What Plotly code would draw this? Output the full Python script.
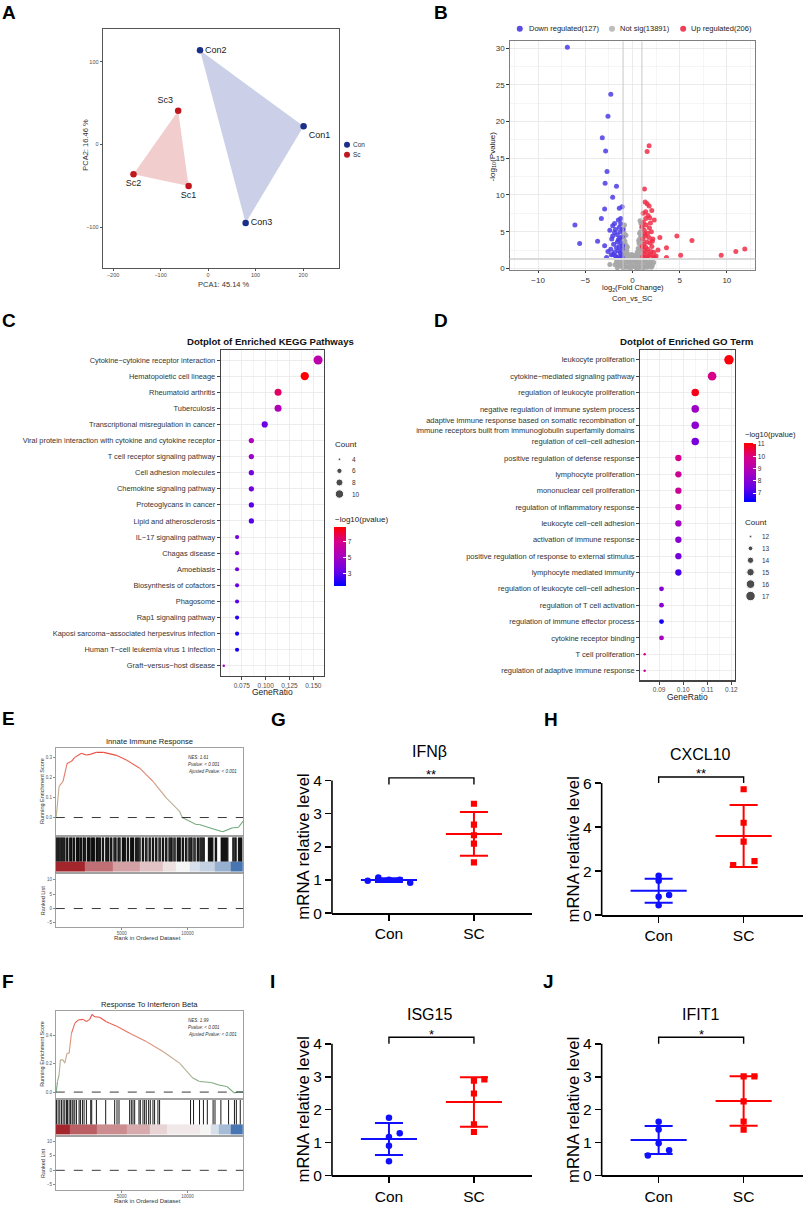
import numpy as np
import plotly.graph_objects as go

W, H = 809, 1213
FONT = "Liberation Sans, Arial, sans-serif"

# ---------------------------------------------------------------------------
# Data
# ---------------------------------------------------------------------------

# A - PCA
CON_SAMPLES = ["Con1", "Con2", "Con3"]
CON_PC1 = [201, -17, 79]
CON_PC2 = [22, 114, -95]
SC_SAMPLES = ["Sc1", "Sc2", "Sc3"]
SC_PC1 = [-41, -157, -63]
SC_PC2 = [-50, -36, 41]

# B - volcano (log2FC, -log10 p)
DOWN_X = [-6.9, -2.3, -2.6, -3.2, -2.85, -2.7, -2.9, -1.7, -2.1, -2.95, -1.4, -1.1,
          -3.3, -1.5, -1.25, -6.1, -1.9, -3.7, -5.6, -2.95, -2.75, -2.25, -2.1,
          -1.2, -1.3, -1.1, -1.4, -1.2, -1.5, -1.1, -1.6, -1.3, -1.8, -1.4, -1.9,
          -1.7, -2.0, -1.6, -2.2, -1.9, -2.4, -1.15, -1.5, -1.8, -2.3, -1.05, -1.35,
          -1.65, -2.1, -1.05, -1.25, -2.6, -2.05, -1.45, -1.1]
DOWN_Y = [30.1, 23.7, 20.7, 17.8, 16.0, 13.2, 11.6, 11.2, 9.7, 8.1, 8.2, 8.4,
          6.8, 6.6, 6.8, 5.9, 6.1, 3.7, 3.4, 3.1, 1.5, 1.85, 4.4,
          1.6, 2.1, 2.6, 3.0, 3.5, 3.9, 4.3, 4.6, 5.0, 5.3, 5.6, 2.2,
          2.8, 3.3, 3.6, 4.0, 4.9, 5.2, 1.95, 2.4, 1.7, 2.6, 3.1, 4.1,
          1.5, 5.8, 5.3, 6.1, 2.3, 1.9, 1.5, 1.5]
UP_X = [1.76, 1.55, 1.27, 1.34, 1.55, 1.76, 2.04, 1.13, 1.4, 1.83, 2.3, 2.9, 4.7,
        6.3, 3.6, 2.7, 2.5, 2.3, 3.6, 5.1, 9.4, 10.95, 11.9,
        1.1, 1.25, 1.15, 1.4, 1.2, 1.5, 1.1, 1.35, 1.6, 1.25, 1.8, 1.45, 1.15,
        1.7, 1.95, 1.6, 2.05, 1.85, 2.15, 1.75, 2.0, 1.55, 2.2, 1.3, 1.9, 1.05,
        1.65, 2.25, 1.4, 1.3, 2.1, 1.05, 1.9, 1.5]
UP_Y = [16.7, 15.9, 10.8, 9.05, 8.8, 8.5, 7.9, 7.5, 7.7, 6.9, 6.6, 4.2, 4.4,
        3.8, 2.8, 2.5, 1.7, 1.5, 1.5, 1.8, 1.8, 2.3, 2.65,
        1.6, 2.0, 2.5, 2.9, 3.3, 3.6, 4.0, 4.4, 4.8, 5.2, 5.5, 5.9, 6.3,
        1.7, 2.3, 2.6, 3.0, 3.5, 4.0, 4.2, 5.0, 1.5, 1.6, 1.5, 6.2, 5.7,
        7.2, 2.2, 6.8, 4.7, 3.7, 3.0, 1.9, 2.2]
NS_X = [-0.95, -0.9, -0.85, -0.95, -0.8, -0.9, -0.7, -0.95, -0.75, -0.6, -0.9, -0.65,
        -0.45, -0.8, -0.5, -0.3, -0.85, -0.7, -0.6, -0.55,
        0.95, 0.85, 0.9, 0.8, 0.95, 0.7, 0.9, 0.6, 0.8, 0.5, 0.95, 0.7, 0.4, 0.85,
        0.55, 0.3, 0.75, 0.65, 0.9, 0.8,
        -1.7, -1.5, -1.35, -1.2, -1.05, -0.9, -0.8, -0.6, -0.45, -0.3, -0.15, 0.0,
        0.1, 0.25, 0.35, 0.5, 0.6, 0.75, 0.9, 1.05, 1.2, 1.35, 1.5, 1.65, 1.8,
        1.95, 2.1, 2.25, -1.6, -1.0, -0.2, 0.45, 1.1, 1.7, -2.4, 0.0, -0.1, 0.12,
        -0.35, 0.3, -1.85, 2.0, -1.3, 1.45, -0.65, 0.65, 1.25, -1.6]
NS_Y = [5.4, 4.9, 4.4, 4.0, 3.7, 3.3, 3.2, 2.8, 2.6, 2.4, 2.1, 1.9,
        1.9, 1.6, 1.5, 1.4, 5.9, 4.5, 3.0, 2.9,
        5.6, 5.0, 4.5, 4.1, 3.7, 3.4, 3.0, 2.7, 2.5, 2.2, 2.1, 1.9, 1.7, 1.5,
        1.4, 1.3, 4.8, 3.8, 6.1, 6.5,
        0.9, 0.5, 1.1, 0.3, 0.8, 1.2, 0.4, 0.9, 0.2, 0.7, 1.2, 0.4,
        1.0, 0.2, 0.8, 1.1, 0.4, 0.9, 0.2, 0.7, 1.1, 0.4, 0.9, 0.2, 0.7,
        1.1, 0.4, 0.8, 0.1, 0.1, 0.05, 0.05, 0.05, 0.5, 0.55, 1.6, 1.9, 1.8,
        1.15, 1.5, 0.5, 0.15, 0.55, 0.15, 0.15, 0.1, 1.25, 1.25]
P_CUT = 1.3
FC_CUT = 1.0

# C - KEGG dotplot
KEGG_TERMS = [
    "Cytokine−cytokine receptor interaction",
    "Hematopoietic cell lineage",
    "Rheumatoid arthritis",
    "Tuberculosis",
    "Transcriptional misregulation in cancer",
    "Viral protein interaction with cytokine and cytokine receptor",
    "T cell receptor signaling pathway",
    "Cell adhesion molecules",
    "Chemokine signaling pathway",
    "Proteoglycans in cancer",
    "Lipid and atherosclerosis",
    "IL−17 signaling pathway",
    "Chagas disease",
    "Amoebiasis",
    "Biosynthesis of cofactors",
    "Phagosome",
    "Rap1 signaling pathway",
    "Kaposi sarcoma−associated herpesvirus infection",
    "Human T−cell leukemia virus 1 infection",
    "Graft−versus−host disease",
]
KEGG_COUNT = [11, 10, 8, 8, 7, 6, 6, 6, 6, 6, 6, 5, 5, 5, 5, 5, 5, 5, 5, 4]
KEGG_RATIO = [0.155, 0.141, 0.113, 0.113, 0.099, 0.085, 0.085, 0.085, 0.085, 0.085,
              0.085, 0.070, 0.070, 0.070, 0.070, 0.070, 0.070, 0.070, 0.070, 0.056]
KEGG_LOGP = [5.8, 8.7, 7.4, 5.4, 3.3, 5.2, 4.7, 3.6, 3.5, 3.0, 2.9, 3.7, 3.7, 3.6,
             3.3, 3.0, 2.2, 1.8, 1.8, 5.0]
KEGG_COUNT_BREAKS = [4, 6, 8, 10]

# D - GO dotplot
GO_TERMS = [
    "leukocyte proliferation",
    "cytokine−mediated signaling pathway",
    "regulation of leukocyte proliferation",
    "negative regulation of immune system process",
    "adaptive immune response based on somatic recombination of<br>"
    "immune receptors built from immunoglobulin superfamily domains",
    "regulation of cell−cell adhesion",
    "positive regulation of defense response",
    "lymphocyte proliferation",
    "mononuclear cell proliferation",
    "regulation of inflammatory response",
    "leukocyte cell−cell adhesion",
    "activation of immune response",
    "positive regulation of response to external stimulus",
    "lymphocyte mediated immunity",
    "regulation of leukocyte cell−cell adhesion",
    "regulation of T cell activation",
    "regulation of immune effector process",
    "cytokine receptor binding",
    "T cell proliferation",
    "regulation of adaptive immune response",
]
GO_COUNT = [17, 16, 15, 15, 15, 15, 14, 14, 14, 14, 14, 14, 14, 14, 13, 13, 13, 13, 12, 12]
GO_RATIO = [0.119, 0.112, 0.105, 0.105, 0.105, 0.105, 0.098, 0.098, 0.098, 0.098,
            0.098, 0.098, 0.098, 0.098, 0.091, 0.091, 0.091, 0.091, 0.084, 0.084]
GO_LOGP = [11.0, 9.9, 10.9, 8.5, 8.2, 7.8, 9.9, 9.7, 9.6, 9.2, 8.6, 8.1, 7.7, 7.1,
           8.0, 8.1, 6.5, 8.7, 9.8, 9.5]
GO_COUNT_BREAKS = [12, 13, 14, 15, 16, 17]

# E - GSEA Innate Immune Response
E_RANK = [0, 50, 250, 550, 860, 1190, 1440, 1950, 2300, 2630, 3080, 3640, 4600, 5360,
          6370, 7380, 8390, 9400, 9600, 10660, 10900, 12090, 12680, 13420, 13860, 14224]
E_ES = [0.0, 0.015, 0.155, 0.18, 0.27, 0.28, 0.30, 0.32, 0.312, 0.315, 0.325, 0.325,
        0.31, 0.287, 0.246, 0.18, 0.098, 0.031, 0.0, -0.035, -0.035, -0.06, -0.071,
        -0.051, -0.05, -0.018]
E_HITS = [20, 95, 170, 240, 320, 400, 470, 545, 620, 690, 830, 905, 1060, 1135, 1205,
          1330, 1410, 1570, 1640, 1710, 1770, 1880, 1950, 2090, 2160, 2240, 2400, 2470,
          2540, 2600, 2720, 2790, 2860, 2930, 3080, 3150, 3220, 3300, 3380, 3540, 3620,
          3800, 3870, 3950, 4020, 4170, 4250, 4420, 4500, 4570, 4730, 4800, 4880, 5060,
          5130, 5200, 5280, 5440, 5520, 5690, 5760, 5840, 5910, 6070, 6150, 6230, 6310,
          6400, 6580, 6660, 6830, 6920, 7090, 7170, 7340, 7420, 7590, 7670, 7840, 7930,
          8100, 8180, 8350, 8430, 8600, 8680, 8760, 8830, 8970, 9060, 9230, 9300, 9380,
          9450, 9610, 9690, 9860, 9950, 10110, 10190, 10270, 10340, 10490, 10580, 10750,
          10830, 10950, 11030, 11110, 11190, 11270, 11600, 11680, 11760, 11840, 11920,
          12120, 12200, 12570, 12650, 12730, 12810, 12890, 12970, 13060, 13450, 13530,
          13620, 13690, 13880, 13960, 14040, 14120]
E_RAMP_EDGES = [0, 2200, 4350, 6370, 8140, 9150, 10160, 10910, 12090, 13270, 14224]
E_RAMP_METRIC = [5.0, 3.2, 2.0, 1.2, 0.5, 0.0, -0.6, -1.0, -1.9, -3.5]
E_STATS = ["NES: 1.61", "Pvalue: < 0.001", "Ajusted Pvalue: < 0.001"]

# F - GSEA Response To Interferon Beta
F_RANK = [0, 50, 130, 250, 350, 556, 682, 860, 1011, 1190, 1440, 1690, 2075, 2325, 2580,
          2750, 2955, 3330, 3840, 4090, 4600, 5610, 6870, 8140, 9400, 10410, 10910,
          11800, 12390, 12980, 13570, 13860, 14224]
F_ES = [0.0, 0.016, 0.075, 0.122, 0.228, 0.228, 0.205, 0.275, 0.275, 0.416, 0.487,
        0.51, 0.515, 0.50, 0.515, 0.55, 0.533, 0.53, 0.498, 0.487, 0.468, 0.416,
        0.358, 0.287, 0.205, 0.099, 0.075, 0.068, 0.05, 0.04, -0.007, 0.002, 0.0]
F_HITS = [50, 177, 303, 430, 556, 682, 809, 885, 1011, 1112, 1238, 1314, 1440, 1567,
          1769, 1870, 2022, 2148, 2325, 2653, 2729, 3083, 3790, 4472, 4649, 4800, 5609,
          5736, 5862, 5990, 6318, 6419, 6620, 6746, 6873, 7050, 7176, 7378, 7504, 7757,
          7883, 10233, 10460, 10915, 11211, 11507, 11946, 12090, 12537, 13121, 13568,
          13712, 14008]
F_RAMP_EDGES = [0, 1060, 3080, 5360, 7130, 8400, 10900, 11800, 12400, 13300, 14224]
F_RAMP_METRIC = [5.5, 3.6, 2.5, 1.8, 0.8, 0.3, 0.0, -0.6, -1.6, -3.5]
F_STATS = ["NES: 1.99", "Pvalue: < 0.001", "Ajusted Pvalue: < 0.001"]

# G-J - qPCR
GROUPS = ["Con", "SC"]
IFNB_CON = [0.98, 1.08, 1.01, 1.01, 0.92]
IFNB_CON_DX = [-0.25, -0.125, 0, 0.127, 0.25]
IFNB_SC = [3.30, 2.67, 2.35, 2.10, 1.53]
IFNB_SC_DX = [0, 0, 0, 0, 0]
CXCL10_CON = [1.79, 1.56, 0.92, 0.84, 0.45]
CXCL10_CON_DX = [0, 0, 0.123, 0, 0]
CXCL10_SC = [5.72, 4.20, 3.34, 2.28, 2.46]
CXCL10_SC_DX = [0, 0, 0, -0.123, 0.128]
ISG15_CON = [1.75, 1.28, 1.17, 0.90, 0.43]
ISG15_CON_DX = [0, 0.127, 0, 0, 0]
ISG15_SC = [2.88, 2.92, 2.49, 1.55, 1.32]
ISG15_SC_DX = [0, 0.123, 0, 0, 0]
IFIT1_CON = [1.63, 1.40, 0.98, 0.77, 0.61]
IFIT1_CON_DX = [0, 0, 0, 0.123, -0.127]
IFIT1_SC = [3.01, 3.01, 2.25, 1.64, 1.39]
IFIT1_SC_DX = [0, 0.127, 0, 0, 0]

# ---------------------------------------------------------------------------
# Helpers
# ---------------------------------------------------------------------------

def fx(px):
    return px / W


def fy(py):
    return 1 - py / H


layout = dict(
    width=W, height=H, autosize=False,
    margin=dict(l=0, r=0, t=0, b=0),
    paper_bgcolor="white", plot_bgcolor="rgba(0,0,0,0)",
    showlegend=False, hovermode=False,
    font=dict(family=FONT, color="#000"),
)
annotations = []
shapes = []
fig = go.Figure()


def add_axes(n, left, right, top, bottom, xa, ya):
    s = "" if n == 1 else str(n)
    layout["xaxis" + s] = dict(domain=[fx(left), fx(right)], anchor="y" + s, **xa)
    layout["yaxis" + s] = dict(domain=[fy(bottom), fy(top)], anchor="x" + s, **ya)
    return "x" + s, "y" + s


def ann(text, x, y, size, color="#000", xanchor="center", yanchor="middle", **kw):
    annotations.append(dict(
        text=text, x=fx(x), y=fy(y), xref="paper", yref="paper", showarrow=False,
        xanchor=xanchor, yanchor=yanchor,
        font=dict(size=size, family=FONT, color=color), **kw))


def letter(t, x, y):
    ann("<b>%s</b>" % t, x, y, 19)


GG_SCALE = [[0, "#0000FF"], [0.25, "#6A00E6"], [0.5, "#A800BF"],
            [0.75, "#D6008A"], [1, "#FF0000"]]


def dot_size(count, lo, hi, dmin, dmax):
    t = (count - lo) / (hi - lo)
    return float(np.sqrt(dmin ** 2 + (dmax ** 2 - dmin ** 2) * t))


def lerp_color(stops, t):
    t = min(max(t, 0.0), 1.0)
    for (t0, c0), (t1, c1) in zip(stops[:-1], stops[1:]):
        if t <= t1:
            f = (t - t0) / (t1 - t0) if t1 > t0 else 0
            c = [int(round(a + (b - a) * f)) for a, b in zip(c0, c1)]
            return "rgb(%d,%d,%d)" % tuple(c)
    return "rgb(%d,%d,%d)" % stops[-1][1]


ES_STOPS = [(0, (95, 165, 115)), (0.3, (180, 180, 150)), (0.62, (222, 150, 125)),
            (1, (236, 72, 62))]
RAMP_SCALE = [[0, "#2f64a8"], [0.444, "#f5f5f5"], [1, "#a3262c"]]

# overlay axis in pixel units, used only for legend keys
LX, LY = add_axes(17, 0, W, 0, H,
                  dict(range=[0, W], visible=False, fixedrange=True),
                  dict(range=[H, 0], visible=False, fixedrange=True))

# ---------------------------------------------------------------------------
# A - PCA
# ---------------------------------------------------------------------------
frame_a = dict(showgrid=False, zeroline=False, showline=True, linecolor="#555",
               linewidth=1, mirror=True, ticks="outside", ticklen=2, tickcolor="#555",
               tickfont=dict(size=5.5, color="#4d4d4d"))
xa, ya = add_axes(1, 103, 340, 29, 269.5,
                  dict(range=[-222, 275], tickvals=[-200, -100, 0, 100, 200], **frame_a),
                  dict(range=[-149, 140], tickvals=[-100, 0, 100], **frame_a))
fig.add_trace(go.Scatter(x=CON_PC1, y=CON_PC2, fill="toself", mode="none",
                         fillcolor="#CBD0E8", xaxis=xa, yaxis=ya))
fig.add_trace(go.Scatter(x=SC_PC1, y=SC_PC2, fill="toself", mode="none",
                         fillcolor="#F2CDCD", xaxis=xa, yaxis=ya))
fig.add_trace(go.Scatter(x=CON_PC1, y=CON_PC2, mode="markers+text", text=CON_SAMPLES,
                         textposition=["bottom right", "middle right", "middle right"],
                         textfont=dict(size=9, color="#1a1a1a"),
                         marker=dict(size=6.5, color="#1B2F88"), xaxis=xa, yaxis=ya))
fig.add_trace(go.Scatter(x=SC_PC1, y=SC_PC2, mode="markers+text", text=SC_SAMPLES,
                         textposition=["bottom center", "bottom center", "top left"],
                         textfont=dict(size=9, color="#1a1a1a"),
                         marker=dict(size=6.5, color="#C0161E"), xaxis=xa, yaxis=ya))
ann("PCA1: 45.14 %", 225, 286, 7.5, color="#333")
ann("PCA2: 16.46 %", 85, 146, 7.5, color="#333", textangle=-90)
fig.add_trace(go.Scatter(x=[348.3, 348.3], y=[145.7, 155.7], mode="markers",
                         marker=dict(size=6, color=["#1B2F88", "#C0161E"]),
                         xaxis=LX, yaxis=LY))
ann("Con", 352.5, 145.7, 6.5, color="#333", xanchor="left")
ann("Sc", 352.5, 155.7, 6.5, color="#333", xanchor="left")
letter("A", 9.5, 12.5)

# ---------------------------------------------------------------------------
# B - Volcano
# ---------------------------------------------------------------------------
frame_bw = dict(zeroline=False, showline=True, linecolor="#7f7f7f", linewidth=1,
                mirror=True, ticks="outside", ticklen=2.5, tickcolor="#333",
                showgrid=True, gridcolor="#e6e6e6", gridwidth=0.8)
xa, ya = add_axes(2, 511.7, 758, 41.7, 271.7,
                  dict(range=[-13, 13], tick0=0, dtick=5, tickfont=dict(size=8, color="#333"),
                       minor=dict(dtick=2.5, showgrid=True, gridcolor="#f3f3f3", ticklen=0),
                       **frame_bw),
                  dict(range=[-0.2, 30.9], tick0=0, dtick=5, tickfont=dict(size=8, color="#333"),
                       minor=dict(dtick=2.5, showgrid=True, gridcolor="#f3f3f3", ticklen=0),
                       **frame_bw))
for xv in (-FC_CUT, FC_CUT):
    shapes.append(dict(type="line", xref=xa, yref="y2 domain", x0=xv, x1=xv, y0=0, y1=1,
                       line=dict(color="#c8c8c8", width=1)))
shapes.append(dict(type="line", xref="x2 domain", yref=ya, x0=0, x1=1, y0=P_CUT, y1=P_CUT,
                   line=dict(color="#dadada", width=2)))
fig.add_trace(go.Scatter(x=NS_X, y=NS_Y, mode="markers", xaxis=xa, yaxis=ya,
                         marker=dict(size=5, color="#A6A6A6", opacity=0.95)))
fig.add_trace(go.Scatter(x=DOWN_X, y=DOWN_Y, mode="markers", xaxis=xa, yaxis=ya,
                         marker=dict(size=5, color="#4B3CE6", opacity=0.85)))
fig.add_trace(go.Scatter(x=UP_X, y=UP_Y, mode="markers", xaxis=xa, yaxis=ya,
                         marker=dict(size=5, color="#F02E48", opacity=0.85)))
fig.add_trace(go.Scatter(x=[521.7, 614.3, 685.7], y=[29, 29, 29], mode="markers",
                         marker=dict(size=6, color=["#5B4CE6", "#BDBDBD", "#F0405A"]),
                         xaxis=LX, yaxis=LY))
ann("Down regulated(%d)" % 127, 528.5, 29, 7.5, color="#222", xanchor="left")
ann("Not sig(%d)" % 13891, 620.5, 29, 7.5, color="#222", xanchor="left")
ann("Up regulated(%d)" % 206, 691.5, 29, 7.5, color="#222", xanchor="left")
ann("-log<sub>10</sub>(Pvalue)", 494.3, 157, 8, color="#222", textangle=-90)
ann("log<sub>2</sub>(Fold Change)", 635, 290, 7.6, color="#222")
ann("Con_vs_SC", 635, 300, 7.6, color="#222")
letter("B", 443, 12.5)

# ---------------------------------------------------------------------------
# C / D - dotplots
# ---------------------------------------------------------------------------
dot_frame = dict(zeroline=False, showline=True, linecolor="#444", linewidth=1.2,
                 mirror=True, ticks="outside", ticklen=3, tickcolor="#444",
                 showgrid=True, gridcolor="#e8e8e8", gridwidth=0.8)


def dotplot(n, box, xrange, dtick, fmt, terms, ratio, count, logp, cax, clo, chi, dmax,
            label_size):
    xa, ya = add_axes(n, *box,
                      dict(range=xrange, tick0=0, dtick=dtick, tickformat=fmt,
                           tickfont=dict(size=6.5, color="#4d4d4d"),
                           minor=dict(dtick=dtick / 2, showgrid=True, gridcolor="#f3f3f3",
                                      ticklen=0), **dot_frame),
                      dict(type="category", categoryorder="array",
                           categoryarray=list(reversed(terms)), range=[-0.6, len(terms) - 0.4],
                           tickfont=dict(size=label_size, color="#333"), **dot_frame))
    fig.add_trace(go.Scatter(
        x=ratio, y=terms, mode="markers", xaxis=xa, yaxis=ya,
        marker=dict(size=[dot_size(c, clo, chi, 2.5, dmax) for c in count],
                    color=logp, coloraxis=cax, line=dict(width=0), opacity=1)))
    return xa, ya


dotplot(3, (221.7, 325, 352.7, 680), [0.053, 0.161], 0.025, ".3f",
        KEGG_TERMS, KEGG_RATIO, KEGG_COUNT, KEGG_LOGP, "coloraxis", 4, 11, 9.0, 7.4)
dotplot(4, (642.7, 737.7, 352.3, 685), [0.0822, 0.1215], 0.01, ".2f",
        GO_TERMS, GO_RATIO, GO_COUNT, GO_LOGP, "coloraxis2", 12, 17, 9.5, 7.5)

ann("<b>Dotplot of Enriched KEGG Pathways</b>", 272, 343.3, 9.6, color="#111")
ann("<b>Dotplot of Enriched GO Term</b>", 689.3, 343.3, 9.7, color="#111")
ann("GeneRatio", 273.3, 696.5, 8.5, color="#222")
ann("GeneRatio", 690.2, 702, 8.5, color="#222")
letter("C", 9, 322.7)
letter("D", 442.5, 322.7)


def colorbar(x, top, ticks):
    return dict(x=fx(x), xanchor="left", y=fy(top), yanchor="top", len=59,
                lenmode="pixels", thickness=12, thicknessmode="pixels", xpad=0, ypad=0,
                outlinewidth=0, tickvals=ticks, ticks="inside", tickcolor="white",
                ticklen=3, tickfont=dict(size=6.5, color="#333", family=FONT))


layout["coloraxis"] = dict(colorscale=GG_SCALE, cmin=1.4, cmax=8.7,
                           colorbar=colorbar(335, 531, [3, 5, 7]))
layout["coloraxis2"] = dict(colorscale=GG_SCALE, cmin=6.3, cmax=11.1,
                            colorbar=colorbar(746.7, 445.7, [7, 8, 9, 10, 11]))
ann("−log10(pvalue)", 334.5, 523, 8, color="#222", xanchor="left")
ann("−log10(pvalue)", 745.5, 437.3, 7.6, color="#222", xanchor="left")

# count legends
ann("Count", 334.5, 447.7, 8, color="#222", xanchor="left")
c_key_y = [462.3, 474, 485.7, 497.3]
fig.add_trace(go.Scatter(
    x=[340.7] * len(KEGG_COUNT_BREAKS), y=c_key_y, mode="markers", xaxis=LX, yaxis=LY,
    marker=dict(color="black", size=[dot_size(c, 4, 11, 2.5, 9.0) for c in KEGG_COUNT_BREAKS])))
for c, yy in zip(KEGG_COUNT_BREAKS, c_key_y):
    ann(str(c), 351.5, yy, 6.5, color="#333", xanchor="left")

ann("Count", 746, 525.7, 8, color="#222", xanchor="left")
d_key_y = [540, 552, 564, 576, 588, 600]
fig.add_trace(go.Scatter(
    x=[753.3] * len(GO_COUNT_BREAKS), y=d_key_y, mode="markers", xaxis=LX, yaxis=LY,
    marker=dict(color="black", size=[dot_size(c, 12, 17, 2.5, 9.5) for c in GO_COUNT_BREAKS])))
for c, yy in zip(GO_COUNT_BREAKS, d_key_y):
    ann(str(c), 763, yy, 6.5, color="#333", xanchor="left")

# ---------------------------------------------------------------------------
# E / F - GSEA plots
# ---------------------------------------------------------------------------
gsea_frame = dict(showgrid=False, zeroline=False, showline=True, linecolor="#8a8a8a",
                  linewidth=0.8, mirror=True)
N_GENES = 14224


def gsea(n0, top, title, ranks, es, es_range, es_ticks, hits, hit_w, edges, metric,
         stats, ranked_range):
    es_top, es_bot = top, top + 88
    bc_top, bc_bot = es_bot + 2, es_bot + 37.6
    rl_top, rl_bot = bc_bot + 1.7, bc_bot + 55
    tick_small = dict(ticks="outside", ticklen=2, tickcolor="#8a8a8a",
                      tickfont=dict(size=4.5, color="#555"))
    # running enrichment score
    xa, ya = add_axes(n0, 56, 244, es_top, es_bot,
                      dict(range=[0, N_GENES], showticklabels=False, **gsea_frame),
                      dict(range=es_range, tickvals=es_ticks, tickformat=".1f",
                           **tick_small, **gsea_frame))
    lo, hi = min(es), max(es)
    for i in range(len(ranks) - 1):
        t = ((es[i] + es[i + 1]) / 2 - lo) / (hi - lo)
        fig.add_trace(go.Scatter(x=ranks[i:i + 2], y=es[i:i + 2], mode="lines",
                                 line=dict(color=lerp_color(ES_STOPS, t), width=1.1),
                                 xaxis=xa, yaxis=ya))
    shapes.append(dict(type="line", xref=xa + " domain", yref=ya, x0=0, x1=1, y0=0, y1=0,
                       line=dict(color="#222", width=0.9, dash="dash")))
    # barcode + ranked metric ramp
    xb, yb = add_axes(n0 + 1, 56, 244, bc_top, bc_bot,
                      dict(range=[0, N_GENES], showticklabels=False, **gsea_frame),
                      dict(range=[0, 1], showticklabels=False, **gsea_frame))
    bx, by = [], []
    for h in hits:
        bx += [h, h, None]
        by += [0.31, 1, None]
    fig.add_trace(go.Scatter(x=bx, y=by, mode="lines", xaxis=xb, yaxis=yb,
                             line=dict(color="rgba(0,0,0,0.9)", width=hit_w)))
    fig.add_trace(go.Heatmap(x=edges, y=[0.03, 0.31], z=[metric], colorscale=RAMP_SCALE,
                             zmin=-4, zmax=5, showscale=False, xaxis=xb, yaxis=yb))
    # ranked list
    xr, yr = add_axes(n0 + 2, 56, 244, rl_top, rl_bot,
                      dict(range=[0, N_GENES], tickvals=[5000, 10000],
                           ticktext=["5000", "10000"], **tick_small, **gsea_frame),
                      dict(range=ranked_range, tickvals=[-5, 0, 5, 10], **tick_small,
                           **gsea_frame))
    shapes.append(dict(type="line", xref=xr + " domain", yref=yr, x0=0, x1=1, y0=0, y1=0,
                       line=dict(color="#222", width=0.9, dash="dash")))
    ann(title, 150, top - 6.3, 7.6, color="#222")
    ann("Running Enrichment Score", 42.7, (es_top + es_bot) / 2, 5.5, color="#333",
        textangle=-90)
    ann("Ranked List", 42.7, (rl_top + rl_bot) / 2, 5.5, color="#333", textangle=-90)
    ann("Rank in Ordered Dataset", 148, rl_bot + 11, 6, color="#333")
    for k, s in enumerate(stats):
        ann("<i>%s</i>" % s, 186.7, top + 9.5 + 7.1 * k, 4.5, color="#333", xanchor="left")


gsea(5, 752.7, "Innate Immune Response", E_RANK, E_ES, [-0.088, 0.348],
     [0.0, 0.1, 0.2, 0.3], E_HITS, 1.4, E_RAMP_EDGES, E_RAMP_METRIC, E_STATS, [-6.5, 12])
gsea(8, 1017.3, "Response To Interferon Beta", F_RANK, F_ES, [-0.042, 0.577],
     [0.0, 0.2, 0.4], F_HITS, 1.0, F_RAMP_EDGES, F_RAMP_METRIC, F_STATS, [-6.8, 11.5])
letter("E", 8.5, 723.5)
letter("F", 8.5, 988.5)

# ---------------------------------------------------------------------------
# G-J - qPCR scatter with mean +/- SD
# ---------------------------------------------------------------------------
QPCR_PANELS = [
    ("G", "IFNβ", IFNB_CON, IFNB_CON_DX, IFNB_SC, IFNB_SC_DX, 4, 1, "**", 3.88, 4.08),
    ("H", "CXCL10", CXCL10_CON, CXCL10_CON_DX, CXCL10_SC, CXCL10_SC_DX, 6, 2, "**", 6.0, 6.28),
    ("I", "ISG15", ISG15_CON, ISG15_CON_DX, ISG15_SC, ISG15_SC_DX, 4, 1, "*", 4.0, 4.2),
    ("J", "IFIT1", IFIT1_CON, IFIT1_CON_DX, IFIT1_SC, IFIT1_SC_DX, 4, 1, "*", 4.0, 4.2),
]
QPCR_BOXES = [
    (333.2, 534, 785.7, 919.3, 304.9, 279.6, 724),
    (603.9, 805.8, 788.3, 921.3, 575.5, 553.4, 724),
    (333.2, 534, 1050.7, 1183.3, 304.9, 273.5, 988),
    (603.9, 805.8, 1050.7, 1183.3, 575.5, 551.0, 988),
]
axis_blk = dict(showgrid=False, zeroline=False, ticks="outside", ticklen=6, tickwidth=1.6,
                tickcolor="black", tickfont=dict(size=15.5, color="black"))
PX_PER_GROUP = 85.3

for k, (panel, (lab, gene, con, con_dx, sc, sc_dx, ymax, ystep, star, b0, b1)) in enumerate(
        zip(QPCR_BOXES, QPCR_PANELS)):
    left, right, top, bottom, ylab_x, let_x, let_y = panel
    n = 11 + k
    ytop_val = ymax * 1.16  # head-room for the significance bracket
    top_ext = bottom - (bottom - top) * ytop_val / ymax
    x0 = -(PX_PER_GROUP - 28.1) / PX_PER_GROUP
    x1 = x0 + (right - left) / PX_PER_GROUP
    xa, ya = add_axes(n, left, right, top_ext, bottom,
                      dict(range=[x0, x1], tickvals=[0, 1], ticktext=GROUPS,
                           showline=True, linecolor="black", linewidth=1.6, **axis_blk),
                      dict(range=[0, ytop_val], tickvals=list(range(0, ymax + 1, ystep)),
                           showline=False, **axis_blk))
    # y axis line only up to the last tick
    shapes.append(dict(type="line", xref="paper", yref="paper", x0=fx(left), x1=fx(left),
                       y0=fy(bottom + 0.8), y1=fy(top), line=dict(color="black", width=1.6)))
    for gi, (vals, dx, col, sym, size) in enumerate([
            (con, con_dx, "#1010FF", "circle", 6.5),
            (sc, sc_dx, "#FF0000", "square", 6.2)]):
        m = float(np.mean(vals))
        sd = float(np.std(vals, ddof=1))
        ex = [gi - 0.33, gi + 0.33, None, gi, gi, None,
              gi - 0.165, gi + 0.165, None, gi - 0.165, gi + 0.165]
        ey = [m, m, None, m - sd, m + sd, None, m + sd, m + sd, None, m - sd, m - sd]
        fig.add_trace(go.Scatter(x=ex, y=ey, mode="lines", xaxis=xa, yaxis=ya,
                                 line=dict(color=col, width=2)))
        fig.add_trace(go.Scatter(x=[gi + d for d in dx], y=vals, mode="markers",
                                 xaxis=xa, yaxis=ya,
                                 marker=dict(symbol=sym, size=size, color=col,
                                             line=dict(width=0))))
    fig.add_trace(go.Scatter(x=[0, 0, 1, 1], y=[b0, b1, b1, b0], mode="lines",
                             xaxis=xa, yaxis=ya, line=dict(color="black", width=1.4)))
    annotations.append(dict(text=star, x=0.5, y=b1, xref=xa, yref=ya, showarrow=False,
                            yanchor="middle", yshift=3,
                            font=dict(size=13, family=FONT, color="black")))
    ann(gene, (left + right) / 2 - 2, top - 29, 16)
    ann("mRNA relative level", ylab_x, (top + bottom) / 2, 16.8, textangle=-90)
    letter(lab, let_x, let_y)

layout["annotations"] = annotations
layout["shapes"] = shapes
fig.update_layout(**layout)
fig.write_html("out.html",
               config={"staticPlot": True, "displayModeBar": False},
               post_script="document.body.style.margin='0px';"
                           "document.body.style.overflow='hidden';")
